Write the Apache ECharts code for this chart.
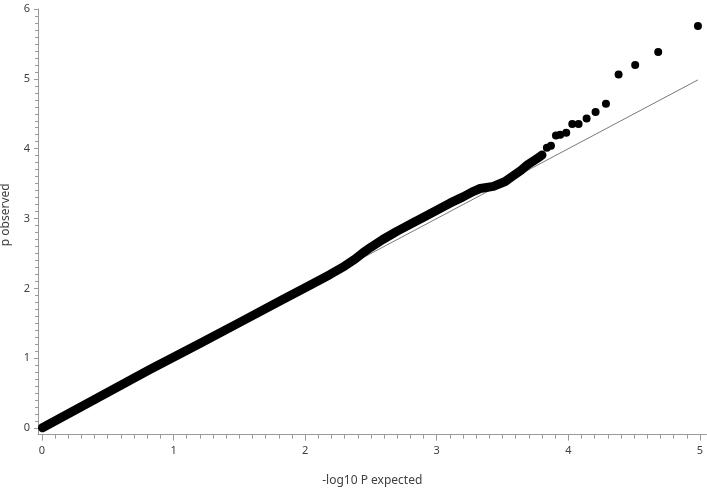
<!DOCTYPE html>
<html>
<head>
<meta charset="utf-8">
<script src="https://cdn.jsdelivr.net/npm/echarts@6/dist/echarts.min.js"></script>
<style>
  html, body { margin: 0; padding: 0; background: #fff; }
  #chart { width: 707px; height: 491px; }
</style>
</head>
<body>
<div id="chart"></div>
<script>
  // tick labels
  const xLabels = [0, 1, 2, 3, 4, 5]
  const yLabels = [0, 1, 2, 3, 4, 5, 6]

  // dense part of the QQ points (expected, observed)
  const bandPts = [
    [0.004, 0.004], [0.40, 0.41], [0.82, 0.84], [1.20, 1.21], [1.50, 1.51],
    [1.83, 1.84], [2.04, 2.05], [2.19, 2.20], [2.30, 2.32], [2.38, 2.42],
    [2.44, 2.51], [2.50, 2.59], [2.59, 2.70], [2.70, 2.82], [2.82, 2.94],
    [2.90, 3.02], [3.00, 3.12], [3.10, 3.22], [3.20, 3.31], [3.28, 3.39],
    [3.33, 3.43], [3.43, 3.46], [3.52, 3.53], [3.58, 3.61], [3.64, 3.69],
    [3.69, 3.77], [3.74, 3.83], [3.78, 3.88], [3.80, 3.91],
  ]
  // sparse tail points
  const tailPts = [
    [3.837, 4.013], [3.868, 4.041], [3.906, 4.19], [3.938, 4.199], [3.984, 4.228],
    [4.030, 4.352], [4.078, 4.352], [4.139, 4.434], [4.207, 4.524], [4.286, 4.643],
    [4.382, 5.064], [4.508, 5.197], [4.683, 5.383], [4.985, 5.755],
  ]
  // y = x reference
  const refLine = [[0, 0], [4.985, 4.985]]

  // minor ticks every 0.1 between the labelled values
  function minorTicks(majors) {
    const out = []
    for (let i = 0; i < majors.length - 1; i++) {
      for (let k = 0; k < 10; k++) {
        out.push(Math.round((majors[i] + k * (majors[i + 1] - majors[i]) / 10) * 100) / 100)
      }
    }
    out.push(majors[majors.length - 1])
    return out
  }

  const axisColor = "#9a9a9a"
  const labelStyle = { color: "#404040", fontSize: 11, fontFamily: "Noto Sans" }
  const X_MIN = -0.03, X_MAX = 5.05, Y_MIN = -0.093, Y_MAX = 6.0

  const option = {
    animation: false,
    backgroundColor: "#fff",
    grid: { left: 38, right: 0.5, top: 9, bottom: 56.4, containLabel: false, outerBoundsMode: "none" },
    xAxis: [
      {
        type: "value",
        min: X_MIN,
        max: X_MAX,
        position: "bottom",
        name: "-log10 P expected",
        nameLocation: "middle",
        nameGap: 40,
        nameTextStyle: { color: "#404040", fontSize: 12, fontFamily: "Noto Sans" },
        axisLine: { show: true, onZero: false, lineStyle: { color: axisColor, width: 1 } },
        axisTick: { show: true, length: 4, customValues: minorTicks(xLabels), lineStyle: { color: axisColor } },
        axisLabel: { show: false },
        splitLine: { show: false },
      },
      {
        type: "value",
        min: X_MIN,
        max: X_MAX,
        position: "bottom",
        axisLine: { show: false, onZero: false },
        axisTick: { show: true, length: 6, customValues: xLabels, lineStyle: { color: axisColor } },
        axisLabel: { show: true, customValues: xLabels, margin: 11, ...labelStyle },
        splitLine: { show: false },
      },
    ],
    yAxis: [
      {
        type: "value",
        min: Y_MIN,
        max: Y_MAX,
        position: "left",
        name: "p observed",
        nameLocation: "middle",
        nameGap: 26,
        nameTextStyle: { color: "#404040", fontSize: 12, fontFamily: "Noto Sans", padding: [0, 0, 0, 14] },
        axisLine: { show: true, onZero: false, lineStyle: { color: axisColor, width: 1 } },
        axisTick: { show: true, length: 3, customValues: minorTicks(yLabels), lineStyle: { color: axisColor } },
        axisLabel: { show: false },
        splitLine: { show: false },
      },
      {
        type: "value",
        min: Y_MIN,
        max: Y_MAX,
        position: "left",
        axisLine: { show: false, onZero: false },
        axisTick: { show: true, length: 4, customValues: yLabels, lineStyle: { color: axisColor } },
        axisLabel: { show: true, customValues: yLabels, margin: 8, ...labelStyle },
        splitLine: { show: false },
      },
    ],
    series: [
      {
        type: "line",
        data: refLine,
        symbol: "none",
        lineStyle: { color: "#7a7a7a", width: 1 },
        z: 1,
      },
      {
        type: "line",
        data: bandPts,
        symbol: "none",
        lineStyle: { color: "#000", width: 9, cap: "round", join: "round" },
        z: 2,
      },
      {
        type: "scatter",
        data: tailPts,
        symbol: "circle",
        symbolSize: 8,
        itemStyle: { color: "#000", opacity: 1 },
        z: 3,
      },
    ],
  }

  const myChart = echarts.init(document.getElementById("chart"))
  myChart.setOption(option)
</script>
</body>
</html>
